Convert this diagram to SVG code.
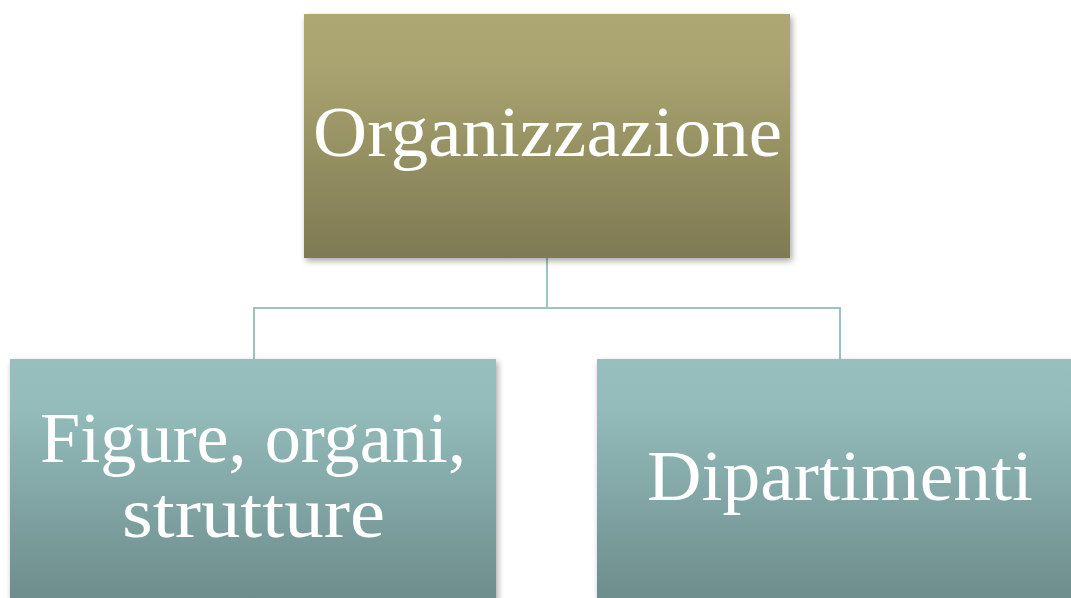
<svg xmlns="http://www.w3.org/2000/svg" width="1071" height="598" viewBox="0 0 1071 598">
  <defs>
    <linearGradient id="gOlive" x1="0" y1="0" x2="0" y2="1">
      <stop offset="0" stop-color="#ADA773"/>
      <stop offset="0.2" stop-color="#AAA470"/>
      <stop offset="1" stop-color="#7E7A53"/>
    </linearGradient>
    <linearGradient id="gTeal" x1="0" y1="0" x2="0" y2="1">
      <stop offset="0" stop-color="#96BFBE"/>
      <stop offset="0.2" stop-color="#93BCBB"/>
      <stop offset="1" stop-color="#6C8C8B"/>
    </linearGradient>
    <filter id="shadow" x="-5%" y="-5%" width="115%" height="115%">
      <feDropShadow dx="2" dy="3" stdDeviation="3" flood-color="#000" flood-opacity="0.35"/>
    </filter>
  </defs>
  <style>
    .lbl { font-family: "Liberation Serif", "Times New Roman", serif; font-size: 72px; fill: #FFFFFF; }
    .conn { stroke: #9CC2C1; stroke-width: 2; fill: none; }
  </style>
  <rect width="1071" height="598" fill="#FFFFFF"/>
  <g id="connectors">
    <path class="conn" d="M547 258 V308 H254 V360"/>
    <path class="conn" d="M547 308 H840 V360"/>
  </g>
  <g id="node-organizzazione">
    <rect x="304" y="14" width="486" height="244" fill="url(#gOlive)" filter="url(#shadow)"/>
    <text class="lbl" x="313" y="156" textLength="469" lengthAdjust="spacingAndGlyphs">Organizzazione</text>
  </g>
  <g id="node-figure">
    <rect x="10" y="359" width="486" height="244" fill="url(#gTeal)" filter="url(#shadow)"/>
    <text class="lbl" x="40" y="462" textLength="426" lengthAdjust="spacingAndGlyphs">Figure, organi,</text>
    <text class="lbl" x="122" y="537" textLength="263" lengthAdjust="spacingAndGlyphs">strutture</text>
  </g>
  <g id="node-dipartimenti">
    <rect x="597" y="359" width="486" height="244" fill="url(#gTeal)" filter="url(#shadow)"/>
    <text class="lbl" x="647" y="500" textLength="386" lengthAdjust="spacingAndGlyphs">Dipartimenti</text>
  </g>
</svg>
